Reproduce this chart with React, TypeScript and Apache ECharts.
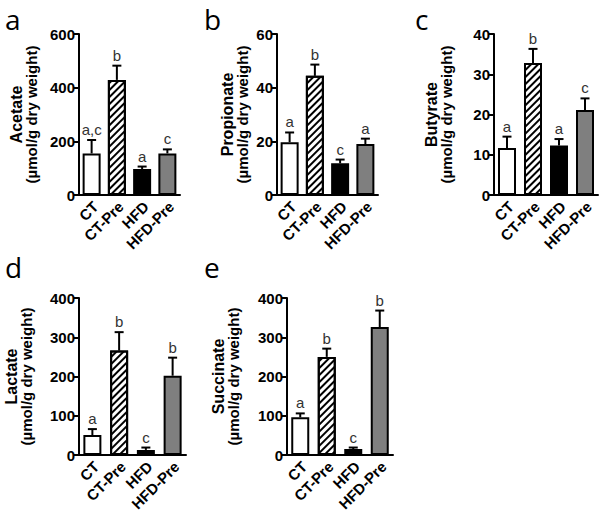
import React, { useEffect, useRef } from "react";
import * as echarts from "echarts";

const categories = ["CT", "CT-Pre", "HFD", "HFD-Pre"];

const acetate = [155, 429, 97, 155];
const acetateErr = [50, 53, 9, 15];
const acetateLetters = ["a,c", "b", "a", "c"];

const propionate = [19.7, 44.4, 11.8, 19.0];
const propionateErr = [3.6, 4.2, 1.4, 2.0];
const propionateLetters = ["a", "b", "c", "a"];

const butyrate = [11.7, 32.8, 12.3, 21.1];
const butyrateErr = [2.8, 3.5, 1.6, 2.9];
const butyrateLetters = ["a", "b", "a", "c"];

const lactate = [51, 266, 13, 202];
const lactateErr = [15, 47, 6, 46];
const lactateLetters = ["a", "b", "c", "b"];

const succinate = [96, 250, 15, 326];
const succinateErr = [10, 21, 4, 42];
const succinateLetters = ["a", "b", "c", "b"];

const panelTags = ["a", "b", "c", "d", "e"];
const yNames = ["Acetate", "Propionate", "Butyrate", "Lactate", "Succinate"];
const yUnit = "(µmol/g dry weight)";
const yMax = [600, 60, 40, 400, 400];
const yInterval = [200, 20, 10, 100, 100];

const panels = [
  { values: acetate, errors: acetateErr, letters: acetateLetters },
  { values: propionate, errors: propionateErr, letters: propionateLetters },
  { values: butyrate, errors: butyrateErr, letters: butyrateLetters },
  { values: lactate, errors: lactateErr, letters: lactateLetters },
  { values: succinate, errors: succinateErr, letters: succinateLetters },
];

// layout (pixels)
const grids = [
  { left: 79, top: 34, width: 101, height: 161 },
  { left: 277, top: 34, width: 101, height: 161 },
  { left: 494, top: 34, width: 104, height: 161 },
  { left: 79, top: 298, width: 107, height: 157 },
  { left: 287, top: 298, width: 106, height: 157 },
];
const nameGaps = [40, 27, 40, 45, 46];
const tagPos = [
  [5, 19],
  [204, 19],
  [415, 19],
  [5, 267],
  [204, 267],
];

const FONT = '"Liberation Sans", Arial, sans-serif';
const barColors = ["#ffffff", "#ffffff", "#000000", "#7f7f7f"];

export default function App() {
  const ref = useRef<HTMLDivElement>(null);
  useEffect(() => {
    document.body.style.margin = "0";
    const chart = echarts.init(ref.current!, null, { renderer: "svg" });
    const xAxis: any[] = [];
    const yAxis: any[] = [];
    const series: any[] = [];
    panels.forEach((p, k) => {
      xAxis.push({
        type: "category",
        gridIndex: k,
        data: categories,
        axisLine: { lineStyle: { color: "#000", width: 2 } },
        axisTick: { show: false },
        axisLabel: { show: false },
      });
      yAxis.push({
        type: "value",
        gridIndex: k,
        min: 0,
        max: yMax[k],
        interval: yInterval[k],
        splitLine: { show: false },
        axisLine: { show: true, lineStyle: { color: "#000", width: 2 } },
        axisTick: { show: true, length: 5, lineStyle: { color: "#000", width: 2 } },
        axisLabel: {
          color: "#000",
          fontWeight: "bold",
          fontSize: 15,
          fontFamily: FONT,
          margin: 4,
        },
        name: "{n|" + yNames[k] + "}\n{u|" + yUnit + "}",
        nameLocation: "middle",
        nameRotate: 90,
        nameGap: nameGaps[k],
        nameTextStyle: {
          color: "#000",
          fontWeight: "bold",
          fontFamily: FONT,
          rich: {
            n: { fontSize: 16, fontWeight: "bold", fontFamily: FONT, color: "#000", lineHeight: 15 },
            u: { fontSize: 15, fontWeight: "bold", fontFamily: FONT, color: "#000", lineHeight: 15 },
          },
        },
      });
      series.push({
        type: "bar",
        xAxisIndex: k,
        yAxisIndex: k,
        barWidth: 18,
        data: p.values.map((v, i) => ({
          value: v,
          itemStyle: {
            color: barColors[i],
            borderColor: "#000",
            borderWidth: 2,
            decal:
              i === 1
                ? {
                    symbol: "rect",
                    symbolSize: 1,
                    dashArrayX: [1, 0],
                    dashArrayY: [1.4, 3],
                    rotation: -Math.PI / 4,
                    color: "#000",
                  }
                : undefined,
          },
        })),
      });
      const letters = p.letters;
      series.push({
        type: "custom",
        xAxisIndex: k,
        yAxisIndex: k,
        z: 5,
        encode: { x: 0, y: 1 },
        data: p.values.map((v, i) => [i, v, p.errors[i]]),
        renderItem: (params: any, api: any) => {
          const i = api.value(0);
          const v = api.value(1);
          const e = api.value(2);
          const p0 = api.coord([i, v]);
          const p1 = api.coord([i, v + e]);
          return {
            type: "group",
            children: [
              {
                type: "line",
                shape: { x1: p0[0], y1: p0[1], x2: p1[0], y2: p1[1] },
                style: { stroke: "#000", lineWidth: 2 },
              },
              {
                type: "line",
                shape: { x1: p1[0] - 4.5, y1: p1[1], x2: p1[0] + 4.5, y2: p1[1] },
                style: { stroke: "#000", lineWidth: 2 },
              },
              {
                type: "text",
                x: p1[0],
                y: p1[1] - 3,
                style: {
                  text: letters[params.dataIndex],
                  fill: "#333",
                  fontSize: 15,
                  fontFamily: FONT,
                  align: "center",
                  verticalAlign: "bottom",
                },
              },
            ],
          };
        },
      });
    });
    chart.setOption({
      animation: false,
      backgroundColor: "#fff",
      grid: grids.map((g) => ({ ...g, containLabel: false })),
      xAxis,
      yAxis,
      series,
    });

    // rotated category labels, positioned through the axes' own scales
    const graphic: any[] = panelTags.map((t, k) => ({
      type: "text",
      x: tagPos[k][0],
      y: tagPos[k][1],
      style: {
        text: t,
        fill: "#000",
        fontSize: 28,
        lineHeight: 28,
        fontFamily: '"Open Sans", "Noto Sans", sans-serif',
        verticalAlign: "middle",
      },
    }));
    panels.forEach((_p, k) => {
      categories.forEach((c, i) => {
        const pt = chart.convertToPixel({ xAxisIndex: k, yAxisIndex: k }, [i, 0]) as number[];
        graphic.push({
          type: "text",
          x: pt[0] + 4,
          y: pt[1] + 9,
          rotation: Math.PI / 4,
          style: {
            text: c,
            fill: "#000",
            fontSize: 15,
            fontWeight: "bold",
            fontFamily: FONT,
            align: "right",
            verticalAlign: "middle",
          },
        });
      });
    });
    chart.setOption({ graphic });
    return () => chart.dispose();
  }, []);
  return <div ref={ref} style={{ width: 600, height: 513 }} />;
}
